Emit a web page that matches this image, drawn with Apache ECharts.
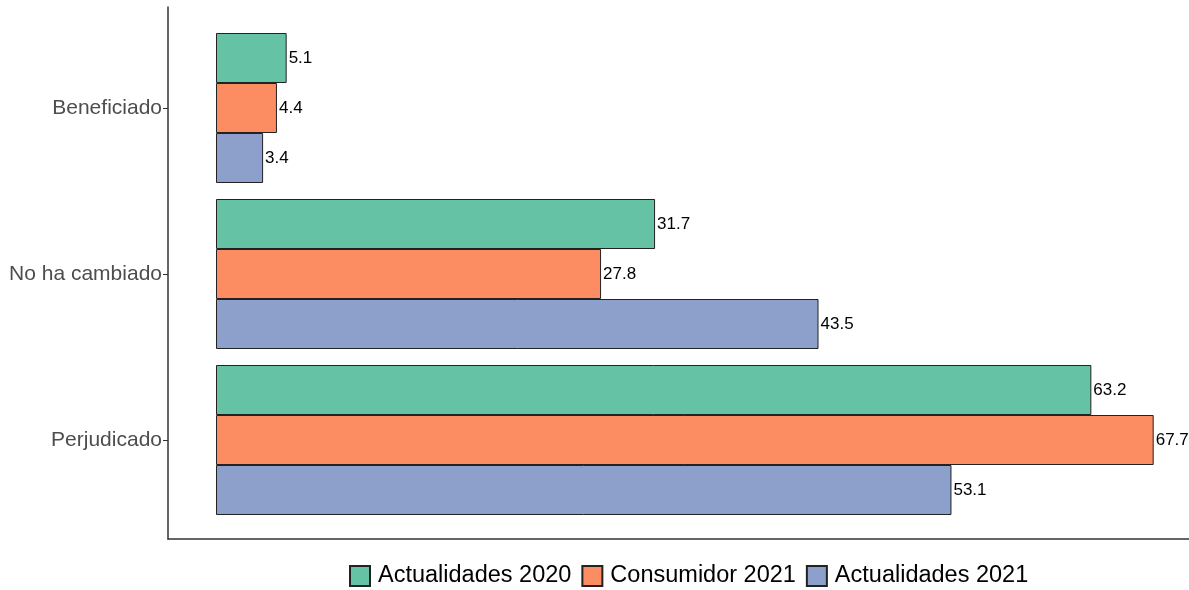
<!DOCTYPE html>
<html>
<head>
<meta charset="utf-8">
<script src="https://cdn.jsdelivr.net/npm/echarts@6/dist/echarts.min.js"></script>
<style>html,body{margin:0;padding:0;background:#fff}#c{width:1189px;height:590px}</style>
</head>
<body>
<div id="c"></div>
<script>
const categories = ['Beneficiado', 'No ha cambiado', 'Perjudicado'];
const seriesNames = ['Actualidades 2020', 'Consumidor 2021', 'Actualidades 2021'];
const actualidades2020 = [5.1, 31.7, 63.2];
const consumidor2021 = [4.4, 27.8, 67.7];
const actualidades2021 = [3.4, 43.5, 53.1];
const colors = ['#66C2A5', '#FC8D62', '#8DA0CB'];

const font = 'Liberation Sans, Arial, sans-serif';
const values = [actualidades2020, consumidor2021, actualidades2021];

const chart = echarts.init(document.getElementById('c'));
chart.setOption({
  animation: false,
  backgroundColor: '#fff',
  textStyle: { fontFamily: font },
  grid: [
    { left: 168, right: 0, top: 25, bottom: 67, containLabel: false },
    { left: 168, right: 0, top: 7, bottom: 51, containLabel: false }
  ],
  xAxis: [
    { type: 'value', gridIndex: 0, min: -3.466, max: 70.25, show: false },
    { type: 'value', gridIndex: 1, min: 0, max: 1,
      axisLine: { show: true, onZero: false, lineStyle: { color: '#333', width: 1.5 } },
      axisTick: { show: false }, axisLabel: { show: false }, splitLine: { show: false } }
  ],
  yAxis: [
    { type: 'category', gridIndex: 0, data: categories, inverse: true,
      axisLine: { show: false, onZero: false },
      axisTick: { show: true, alignWithLabel: true, length: 5, lineStyle: { color: '#333', width: 1 } },
      axisLabel: { color: '#4D4D4D', fontSize: 21, margin: 6, fontFamily: font },
      splitLine: { show: false } },
    { type: 'value', gridIndex: 1, min: 0, max: 1,
      axisLine: { show: true, onZero: false, lineStyle: { color: '#333', width: 1.5 } },
      axisTick: { show: false }, axisLabel: { show: false }, splitLine: { show: false } }
  ],
  legend: {
    left: 344, top: 559,
    itemWidth: 20, itemHeight: 20, itemGap: 10,
    icon: 'rect',
    textStyle: { fontSize: 23.5, color: '#000', fontFamily: font, padding: [0, 0, 0, 3] },
    data: seriesNames
  },
  series: seriesNames.map((name, i) => ({
    name: name,
    type: 'bar',
    xAxisIndex: 0, yAxisIndex: 0,
    data: values[i],
    barWidth: 50,
    barGap: '0%',
    itemStyle: { color: colors[i], borderColor: '#222', borderWidth: 1 },
    label: { show: true, position: 'right', distance: 2, fontSize: 17, color: '#000', fontFamily: font }
  }))
});
</script>
</body>
</html>
